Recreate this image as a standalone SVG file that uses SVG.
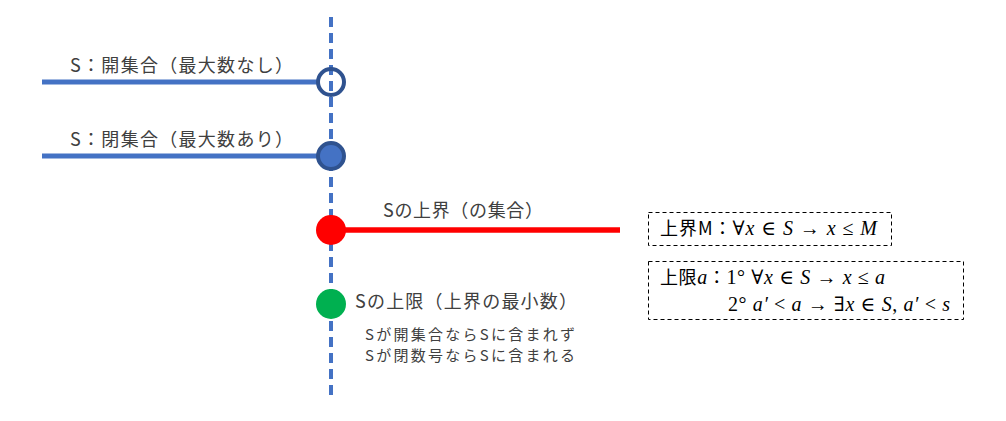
<svg xmlns="http://www.w3.org/2000/svg" width="1006" height="421" viewBox="0 0 1006 421">
<style>
.jp{font-family:"Noto Sans CJK JP","Noto Sans",sans-serif;fill:#404040}
.lbl{font-size:18px}
.sm{font-size:15px}
.box{fill:none;stroke:#000;stroke-width:1;stroke-dasharray:4 3}
.mt{font-family:"Liberation Serif","DejaVu Serif",serif;font-size:20px;fill:#000}
.mj{font-family:"Noto Sans CJK JP",sans-serif;font-size:18px;fill:#000}
.i{font-style:italic}
</style>
<rect width="1006" height="421" fill="#fff"/>
<g id="connectors">
<line x1="331" y1="17" x2="331" y2="398" stroke="#4472C4" stroke-width="4" stroke-dasharray="10 6"/>
<line x1="42" y1="82" x2="318" y2="82" stroke="#4472C4" stroke-width="5"/>
<line x1="42" y1="156" x2="318" y2="156" stroke="#4472C4" stroke-width="5"/>
<line x1="331" y1="230" x2="620" y2="230" stroke="#FF0000" stroke-width="5.5"/>
</g>
<g id="open-set">
<circle cx="331" cy="82" r="13" fill="none" stroke="#2F528F" stroke-width="4"/>
<text class="jp lbl" x="70" y="72" textLength="223" lengthAdjust="spacing">S：開集合（最大数なし）</text>
</g>
<g id="closed-set">
<circle cx="331" cy="156" r="13" fill="#4472C4" stroke="#2F528F" stroke-width="4"/>
<text class="jp lbl" x="70" y="146" textLength="223" lengthAdjust="spacing">S：閉集合（最大数あり）</text>
</g>
<g id="upper-bound">
<circle cx="331" cy="230" r="15" fill="#FF0000"/>
<text class="jp lbl" x="383" y="217" textLength="160" lengthAdjust="spacing">Sの上界（の集合）</text>
</g>
<g id="supremum">
<circle cx="331" cy="304" r="15" fill="#00B050"/>
<text class="jp lbl" x="355" y="308" textLength="222" lengthAdjust="spacing">Sの上限（上界の最小数）</text>
<text class="jp sm" x="365" y="340" textLength="210" lengthAdjust="spacing">Sが開集合ならSに含まれず</text>
<text class="jp sm" x="365" y="361" textLength="210" lengthAdjust="spacing">Sが閉数号ならSに含まれる</text>
</g>
<g id="def-upper-bound">
<rect class="box" x="648.5" y="212.5" width="243" height="33"/>
<text x="660" y="235" textLength="217" lengthAdjust="spacing"><tspan class="mj">上界M：</tspan><tspan class="mt">∀<tspan class="i">x</tspan> ∈ <tspan class="i">S</tspan> → <tspan class="i">x</tspan> ≤ <tspan class="i">M</tspan></tspan></text>
</g>
<g id="def-supremum">
<rect class="box" x="648.5" y="261.5" width="315" height="58"/>
<text x="660" y="284" textLength="225" lengthAdjust="spacing"><tspan class="mj">上限</tspan><tspan class="mt i">a</tspan><tspan class="mj">：</tspan><tspan class="mt">1° ∀<tspan class="i">x</tspan> ∈ <tspan class="i">S</tspan> → <tspan class="i">x</tspan> ≤ <tspan class="i">a</tspan></tspan></text>
<text class="mt" x="728" y="311" textLength="222" lengthAdjust="spacing">2° <tspan class="i">a′</tspan> &lt; <tspan class="i">a</tspan> → ∃<tspan class="i">x</tspan> ∈ <tspan class="i">S</tspan>, <tspan class="i">a′</tspan> &lt; <tspan class="i">s</tspan></text>
</g>
</svg>
